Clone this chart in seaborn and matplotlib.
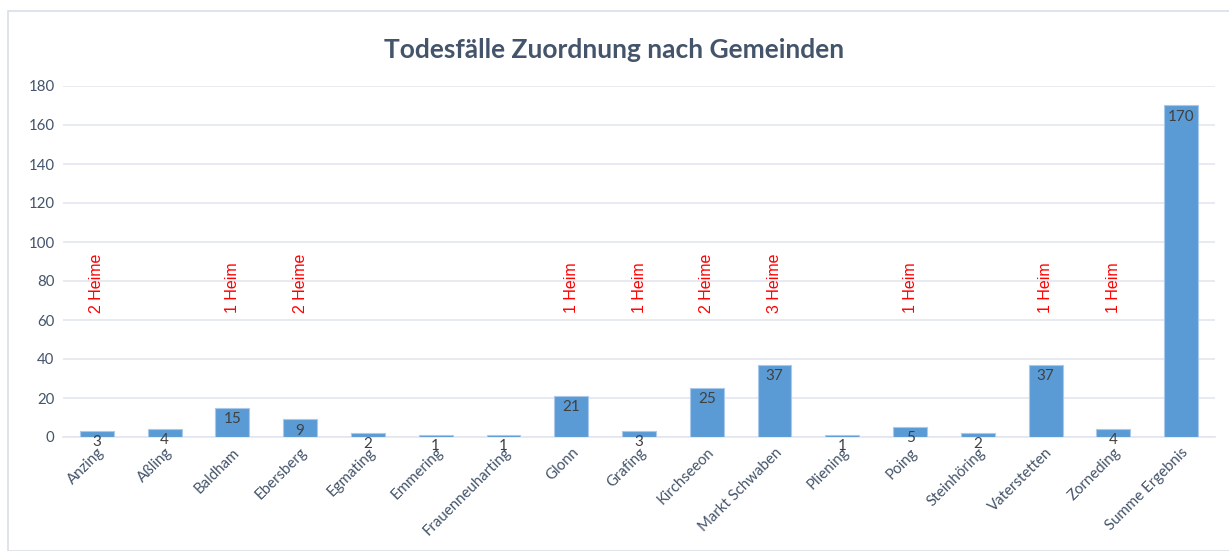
import pandas as pd
import numpy as np
import matplotlib
matplotlib.use('Agg')
import matplotlib.pyplot as plt
import seaborn as sns
from matplotlib.patches import Rectangle

# ===== Daten =====
gemeinden = ['Anzing', 'Aßling', 'Baldham', 'Ebersberg', 'Egmating', 'Emmering',
             'Frauenneuharting', 'Glonn', 'Grafing', 'Kirchseeon', 'Markt Schwaben',
             'Pliening', 'Poing', 'Steinhöring', 'Vaterstetten', 'Zorneding',
             'Summe Ergebnis']
todesfaelle = [3, 4, 15, 9, 2, 1, 1, 21, 3, 25, 37, 1, 5, 2, 37, 4, 170]
heime = ['2 Heime', '', '1 Heim', '2 Heime', '', '', '', '1 Heim', '1 Heim',
         '2 Heime', '3 Heime', '', '1 Heim', '', '1 Heim', '1 Heim', '']

df = pd.DataFrame({'Gemeinde': gemeinden, 'Todesfälle': todesfaelle})

sns.set_theme(style='white')
plt.rcParams['font.family'] = ['Lato', 'DejaVu Sans']

fig = plt.figure(figsize=(12.29, 5.51), dpi=100)
ax = fig.add_axes([63 / 1229, 114 / 551, (1215 - 63) / 1229, (465 - 114) / 551])

# Rahmen um das Diagramm
fig.patches.append(Rectangle((8 / 1229, 0), 1.0, 1 - 11 / 551, transform=fig.transFigure,
                             fill=False, edgecolor='#D9DEE8', linewidth=1.2))

sns.barplot(data=df, x='Gemeinde', y='Todesfälle', color='#5B9BD5', width=0.5,
            saturation=1, edgecolor='#A9C8EA', linewidth=0.8, ax=ax, zorder=3)

ax.set_ylim(0, 180)
ax.set_xlim(-0.5, len(gemeinden) - 0.5)
ax.set_yticks(range(0, 181, 20))
ax.grid(axis='y', color='#E3E6EE', linewidth=1.2, zorder=0)
ax.grid(axis='x', visible=False)
for s in ['top', 'right', 'left']:
    ax.spines[s].set_visible(False)
ax.spines['bottom'].set_color('#E3E6EE')
ax.spines['bottom'].set_linewidth(1.2)
ax.tick_params(axis='both', length=0, colors='#44546A', labelsize=10.8)
ax.tick_params(axis='y', pad=6)
ax.tick_params(axis='x', pad=6)
ax.set_xlabel('')
ax.set_ylabel('')
plt.setp(ax.get_xticklabels(), rotation=45, ha='right', rotation_mode='anchor')

# Datenbeschriftungen
for i, v in enumerate(todesfaelle):
    ax.annotate(str(v), (i, v), xytext=(0, -3), textcoords='offset points',
                ha='center', va='top', fontsize=11, color='#404040', zorder=4)

# Heime-Anmerkungen
for i, h in enumerate(heime):
    if h:
        ax.text(i, 63.5, h, rotation=90, ha='center', va='bottom', color='red',
                fontsize=11.5, family=['Liberation Sans', 'DejaVu Sans'], zorder=4)

fig.text(0.5, 1 - 50 / 551, 'Todesfälle Zuordnung nach Gemeinden', ha='center',
         va='center', fontsize=19, fontweight='bold', color='#44546A')

plt.savefig('out.png', dpi=100)
